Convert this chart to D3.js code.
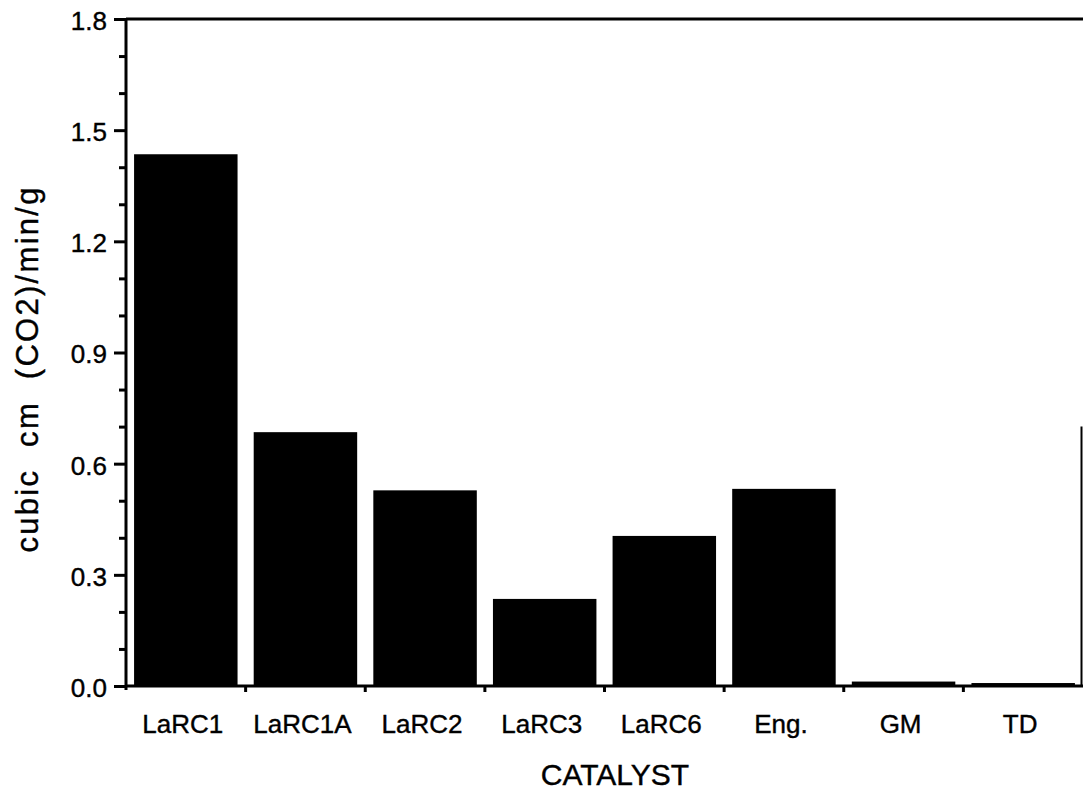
<!DOCTYPE html>
<html>
<head>
<meta charset="utf-8">
<script src="https://cdn.jsdelivr.net/npm/d3@7"></script>
<style>
  html, body { margin: 0; padding: 0; background: #fff; }
  svg { display: block; }
  text { font-family: "Liberation Sans", Arial, Helvetica, sans-serif; fill: #000; stroke: #000; stroke-width: 0.4px; }
</style>
</head>
<body>
<svg id="chart" width="1083" height="797"></svg>
<script>
const categories = ["LaRC1", "LaRC1A", "LaRC2", "LaRC3", "LaRC6", "Eng.", "GM", "TD"];
const values = [1.435, 0.685, 0.528, 0.235, 0.405, 0.532, 0.012, 0.008];
const majorTicks = [0.0, 0.3, 0.6, 0.9, 1.2, 1.5, 1.8];
const minorTicks = [0.1, 0.2, 0.4, 0.5, 0.7, 0.8, 1.0, 1.1, 1.3, 1.4, 1.6, 1.7];
const yTitle = "cubic  cm  (CO2)/min/g";
const xTitle = "CATALYST";

const svg = d3.select("#chart");
const m = { left: 126, right: 1083, top: 19, bottom: 686 };

const x = d3.scaleBand().domain(categories).range([m.left, m.right])
  .paddingInner(0.135).paddingOuter(0.0675);
const xb = d3.scaleBand().domain(categories).range([m.left, m.right]).padding(0);
const y = d3.scaleLinear().domain([0, 1.8]).range([m.bottom, m.top]);

// bars
svg.append("g").selectAll("rect").data(categories).join("rect")
  .attr("x", d => x(d))
  .attr("width", x.bandwidth())
  .attr("y", (d, i) => y(values[i]))
  .attr("height", (d, i) => y(0) - y(values[i]))
  .attr("fill", "#000");

// frame: top line and partial right edge
svg.append("line").attr("x1", m.left).attr("x2", m.right).attr("y1", y(1.8)).attr("y2", y(1.8))
  .attr("stroke", "#000").attr("stroke-width", 3);
svg.append("line").attr("x1", m.right - 1.5).attr("x2", m.right - 1.5).attr("y1", y(0.7)).attr("y2", y(0))
  .attr("stroke", "#000").attr("stroke-width", 2);

// y axis major
const yAxis = svg.append("g").attr("transform", `translate(${m.left},0)`)
  .call(d3.axisLeft(y).tickValues(majorTicks).tickFormat(d3.format(".1f")).tickSize(12).tickPadding(7));
yAxis.attr("font-family", null).attr("font-size", null);
yAxis.select(".domain").attr("stroke-width", 3).attr("d", `M0,${m.top - 1}V${m.bottom + 4}`);
yAxis.selectAll(".tick line").attr("stroke-width", 3);
yAxis.selectAll(".tick text").style("font-size", "26px").attr("dy", "0.4em");

// y axis minor
const yMinor = svg.append("g").attr("transform", `translate(${m.left},0)`)
  .call(d3.axisLeft(y).tickValues(minorTicks).tickFormat("").tickSize(7));
yMinor.select(".domain").remove();
yMinor.selectAll(".tick line").attr("stroke-width", 3);

// x axis
const boundaries = categories.slice(1).map(c => xb(c));
svg.append("line").attr("x1", m.left).attr("x2", m.right).attr("y1", m.bottom).attr("y2", m.bottom)
  .attr("stroke", "#000").attr("stroke-width", 3);
svg.append("g").selectAll("line").data(boundaries).join("line")
  .attr("x1", d => d).attr("x2", d => d)
  .attr("y1", m.bottom).attr("y2", m.bottom + 6)
  .attr("stroke", "#000").attr("stroke-width", 3);

const xAxis = svg.append("g").attr("transform", `translate(0,${m.bottom})`)
  .call(d3.axisBottom(xb).tickSize(0).tickPadding(0));
xAxis.attr("font-family", null).attr("font-size", null);
xAxis.select(".domain").remove();
xAxis.selectAll(".tick text").attr("y", 47).attr("dy", null)
  .style("font-size", "26px").attr("transform", "translate(-3,0)");

// titles
svg.append("text").attr("x", 615).attr("y", 785)
  .attr("text-anchor", "middle").style("font-size", "30px").text(xTitle);
svg.append("text").attr("transform", `translate(38,370) rotate(-90)`)
  .attr("text-anchor", "middle").style("font-size", "31px").style("white-space", "pre")
  .attr("textLength", 365).attr("lengthAdjust", "spacing")
  .text(yTitle);
</script>
</body>
</html>
